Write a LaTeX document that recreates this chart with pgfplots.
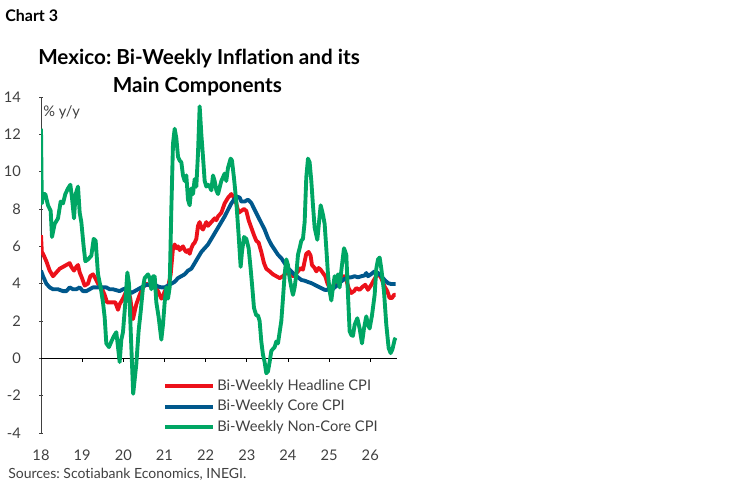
\documentclass[border=0pt]{standalone}
\usepackage{fontspec}
\setmainfont{Lato}[Ligatures={NoCommon}]
\usepackage{pgfplots}
\pgfplotsset{compat=1.18}
\definecolor{sred}{RGB}{236,17,26}
\definecolor{sblue}{RGB}{0,88,140}
\definecolor{sgreen}{RGB}{0,166,100}
\definecolor{txt}{RGB}{64,64,64}
\frenchspacing

\begin{document}
\begin{tikzpicture}
\path[use as bounding box] (0,0) rectangle (561pt,362.25pt);
\node[anchor=base west, inner sep=0, font=\bfseries\fontsize{12}{14}\selectfont] at (3.75pt,346pt) {Chart 3};
\node[anchor=base, inner sep=0, font=\bfseries\fontsize{15.5}{18}\selectfont] at (149.25pt,314pt) {Mexico: Bi-Weekly Inflation and its};
\node[anchor=base, inner sep=0, font=\bfseries\fontsize{15.5}{18}\selectfont] at (148pt,293pt) {Main Components};
\node[anchor=base west, inner sep=0, font=\fontsize{10.5}{12}\selectfont, text=txt] at (6pt,3.75pt) {Sources: Scotiabank Economics, INEGI.};
\node[anchor=base west, inner sep=0, font=\fontsize{11}{13}\selectfont, text=txt] at (32.25pt,275.25pt) {\% y/y};

\begin{axis}[
  at={(30.75pt,37.5pt)}, anchor=south west,
  scale only axis, width=267pt, height=252pt,
  xmin=18, xmax=26.65, ymin=-4, ymax=14,
  axis y line=left, axis x line=bottom,
  x axis line style={draw=none},
  y axis line style={-, draw=black!75, line width=0.6pt},
  xtick={18,...,26}, xticklabels={18,19,20,21,22,23,24,25,26},
  ytick={-4,-2,...,14}, yticklabels={-4,-2,0,2,4,6,8,10,12,14},
  major x tick style={draw=none},
  major y tick style={draw=black!75, line width=0.6pt},
  major tick length=3pt,
  tick label style={font=\fontsize{11}{13}\selectfont, text=txt},
  xticklabel style={yshift=-7.5pt},
  yticklabel style={xshift=-10pt},
  legend style={at={(axis cs:20.97,-2.6)}, anchor=west, draw=none, fill=none,
    inner xsep=0pt, inner ysep=0pt, row sep=1.9pt,
    font=\fontsize{11}{13}\selectfont, text=txt,
    nodes={inner sep=1.5pt, text height=8pt, text depth=2.5pt}},
  legend image code/.code={\draw[#1] (0pt,0pt) -- (36pt,0pt);},
  legend cell align=left,
  every axis plot/.append style={line width=2.9pt, line join=round},
]
\draw[black, line width=0.6pt] (axis cs:18,0) -- (axis cs:26.65,0);
\draw[black, line width=0.6pt]
  (axis cs:19,0) -- (axis cs:19,-0.21)
  (axis cs:20,0) -- (axis cs:20,-0.21)
  (axis cs:21,0) -- (axis cs:21,-0.21)
  (axis cs:22,0) -- (axis cs:22,-0.21)
  (axis cs:23,0) -- (axis cs:23,-0.21)
  (axis cs:24,0) -- (axis cs:24,-0.21)
  (axis cs:25,0) -- (axis cs:25,-0.21)
  (axis cs:26,0) -- (axis cs:26,-0.21);

\addplot[sred] coordinates {
(18.000,6.6)(18.02,5.7)(18.049,5.6)(18.130,5.2)(18.211,4.7)(18.292,4.4)(18.373,4.6)(18.454,4.8)(18.535,4.9)(18.616,5.0)(18.697,5.1)(18.737,4.9)(18.802,4.7)(18.858,4.9)(18.899,5.0)(18.940,4.6)(18.996,4.3)(19.061,3.9)(19.142,4.0)(19.198,4.4)(19.263,4.5)(19.320,4.3)(19.385,4.0)(19.466,3.8)(19.547,3.4)(19.604,3.0)(19.668,3.0)(19.749,3.0)(19.806,3.0)(19.871,2.6)(19.911,2.9)(19.992,3.2)(20.073,3.6)(20.114,3.7)(20.170,3.2)(20.235,2.1)(20.316,2.9)(20.397,3.4)(20.478,3.8)(20.559,4.0)(20.640,3.9)(20.762,3.9)(20.843,3.6)(20.924,3.2)(20.964,3.3)(21.005,3.6)(21.086,3.8)(21.151,4.5)(21.207,5.9)(21.248,6.1)(21.288,5.9)(21.329,6.0)(21.369,5.8)(21.410,5.9)(21.450,6.0)(21.491,5.8)(21.531,5.7)(21.572,5.8)(21.612,5.6)(21.653,5.9)(21.693,6.1)(21.734,6.2)(21.774,6.4)(21.815,7.1)(21.855,7.3)(21.896,7.0)(21.936,6.9)(21.977,7.1)(22.017,7.3)(22.058,7.1)(22.098,7.2)(22.139,7.3)(22.179,7.4)(22.220,7.5)(22.260,7.4)(22.301,7.6)(22.382,7.8)(22.462,8.3)(22.543,8.6)(22.624,8.8)(22.664,8.7)(22.745,8.3)(22.802,7.8)(22.867,7.9)(22.932,8.0)(22.988,7.9)(23.045,7.4)(23.110,7.0)(23.175,6.6)(23.231,6.3)(23.288,6.2)(23.353,5.7)(23.418,5.1)(23.474,4.8)(23.555,4.66)(23.636,4.5)(23.717,4.4)(23.798,4.3)(23.879,4.4)(23.960,4.6)(24.041,4.5)(24.122,4.4)(24.179,4.5)(24.244,4.66)(24.308,4.84)(24.365,4.75)(24.406,5.2)(24.446,5.6)(24.503,5.7)(24.551,5.5)(24.584,5.0)(24.649,4.84)(24.689,4.66)(24.746,4.84)(24.795,4.75)(24.851,4.57)(24.908,4.4)(24.957,4.03)(25.013,3.76)(25.070,3.85)(25.135,3.85)(25.175,3.94)(25.216,4.12)(25.297,4.3)(25.362,4.4)(25.418,4.2)(25.475,3.76)(25.540,3.5)(25.605,3.6)(25.661,3.76)(25.742,3.67)(25.823,3.85)(25.880,3.94)(25.945,3.67)(26.026,3.94)(26.090,4.2)(26.147,4.4)(26.228,4.48)(26.285,4.2)(26.349,3.85)(26.414,3.6)(26.471,3.23)(26.528,3.23)(26.576,3.4)(26.617,3.4)
};
\addlegendentry{Bi-Weekly Headline CPI}

\addplot[sblue] coordinates {
(18.000,4.7)(18.049,4.4)(18.130,4.0)(18.211,3.8)(18.292,3.7)(18.413,3.7)(18.535,3.6)(18.616,3.6)(18.697,3.8)(18.778,3.7)(18.858,3.7)(18.940,3.8)(19.020,3.6)(19.101,3.6)(19.182,3.7)(19.263,3.8)(19.345,3.8)(19.426,3.8)(19.506,3.8)(19.587,3.8)(19.668,3.7)(19.749,3.7)(19.830,3.65)(19.911,3.6)(19.992,3.7)(20.073,3.75)(20.154,3.6)(20.195,3.5)(20.276,3.6)(20.357,3.7)(20.438,3.8)(20.519,3.9)(20.600,3.95)(20.681,3.9)(20.762,3.95)(20.843,3.85)(20.924,3.8)(21.005,3.8)(21.086,3.9)(21.167,4.0)(21.248,4.1)(21.329,4.3)(21.410,4.4)(21.491,4.5)(21.572,4.7)(21.653,4.8)(21.734,5.1)(21.815,5.4)(21.896,5.7)(21.977,5.9)(22.058,6.1)(22.139,6.4)(22.220,6.7)(22.301,7.0)(22.382,7.3)(22.462,7.6)(22.543,7.95)(22.624,8.3)(22.705,8.55)(22.786,8.65)(22.83,8.6)(22.867,8.4)(22.948,8.4)(23.029,8.5)(23.110,8.32)(23.191,7.96)(23.272,7.6)(23.353,7.25)(23.434,6.9)(23.515,6.44)(23.596,6.09)(23.677,5.82)(23.758,5.55)(23.839,5.37)(23.920,5.1)(24.001,4.84)(24.082,4.66)(24.163,4.48)(24.244,4.34)(24.325,4.2)(24.406,4.16)(24.487,4.09)(24.568,4.03)(24.649,3.94)(24.730,3.85)(24.811,3.76)(24.892,3.67)(24.957,3.67)(25.013,3.76)(25.070,3.67)(25.135,3.8)(25.216,3.94)(25.297,4.12)(25.378,4.26)(25.459,4.34)(25.540,4.34)(25.621,4.4)(25.702,4.34)(25.783,4.4)(25.864,4.44)(25.904,4.57)(25.945,4.4)(26.026,4.52)(26.107,4.66)(26.188,4.57)(26.269,4.4)(26.349,4.2)(26.430,4.03)(26.511,3.98)(26.617,3.98)
};
\addlegendentry{Bi-Weekly Core CPI}

\addplot[sgreen] coordinates {
(18.000,12.3)(18.02,8.3)(18.049,8.8)(18.105,8.8)(18.170,8.2)(18.235,7.9)(18.267,6.5)(18.332,7.2)(18.413,7.5)(18.478,8.4)(18.535,8.3)(18.591,8.8)(18.656,9.1)(18.713,9.3)(18.753,8.6)(18.802,7.5)(18.842,8.8)(18.899,9.2)(18.940,7.8)(18.980,7.3)(19.036,6.0)(19.077,5.2)(19.142,5.3)(19.223,5.5)(19.280,6.4)(19.328,6.3)(19.385,4.5)(19.450,3.8)(19.506,3.0)(19.547,2.2)(19.587,0.8)(19.652,0.6)(19.709,0.9)(19.774,1.2)(19.830,1.4)(19.871,0.6)(19.911,-0.2)(19.952,1.0)(19.992,1.4)(20.049,3.0)(20.098,4.6)(20.138,4.0)(20.179,1.5)(20.24,-1.9)(20.316,-0.3)(20.373,1.5)(20.422,2.5)(20.478,3.8)(20.519,4.3)(20.559,4.4)(20.600,4.5)(20.640,4.3)(20.681,3.7)(20.721,4.4)(20.762,4.4)(20.802,3.0)(20.859,2.2)(20.924,1.0)(20.964,1.8)(21.005,3.0)(21.045,3.8)(21.086,3.2)(21.126,3.8)(21.167,8.0)(21.207,11.5)(21.248,12.3)(21.288,11.8)(21.329,10.8)(21.369,10.6)(21.410,10.5)(21.450,9.8)(21.491,9.5)(21.531,9.8)(21.572,8.5)(21.612,8.2)(21.653,9.1)(21.693,8.8)(21.734,9.6)(21.774,9.2)(21.815,11.0)(21.855,13.5)(21.896,12.0)(21.936,10.8)(21.977,9.5)(22.017,9.2)(22.058,9.3)(22.098,9.2)(22.139,9.0)(22.179,9.8)(22.220,9.5)(22.260,9.0)(22.301,8.8)(22.381,9.5)(22.462,9.9)(22.502,9.5)(22.543,10.2)(22.608,10.7)(22.640,10.6)(22.689,9.66)(22.745,8.4)(22.802,6.6)(22.851,4.9)(22.883,5.7)(22.932,6.5)(22.988,6.4)(23.045,5.9)(23.094,4.8)(23.134,3.8)(23.175,2.7)(23.231,2.3)(23.272,2.3)(23.312,2.0)(23.353,0.9)(23.393,0.2)(23.434,-0.2)(23.474,-0.8)(23.515,-0.7)(23.555,-0.2)(23.596,0.4)(23.636,0.5)(23.677,0.6)(23.717,0.9)(23.758,0.8)(23.798,1.4)(23.839,2.0)(23.879,3.2)(23.920,4.5)(23.960,5.3)(24.001,5.0)(24.041,4.3)(24.082,3.8)(24.122,3.4)(24.163,3.8)(24.203,4.5)(24.244,5.55)(24.284,5.9)(24.325,6.3)(24.365,6.4)(24.406,7.3)(24.446,9.7)(24.487,10.7)(24.527,10.5)(24.568,9.5)(24.608,8.2)(24.649,7.0)(24.714,6.35)(24.795,8.2)(24.851,7.7)(24.892,7.2)(24.932,5.9)(24.973,4.5)(25.013,3.6)(25.054,3.1)(25.094,3.8)(25.135,4.4)(25.175,4.1)(25.216,4.5)(25.256,3.8)(25.297,4.7)(25.362,5.9)(25.418,5.55)(25.459,3.4)(25.499,1.45)(25.540,1.25)(25.580,1.2)(25.621,1.8)(25.686,2.15)(25.742,1.6)(25.799,0.8)(25.848,1.6)(25.904,2.25)(25.945,1.8)(25.985,1.6)(26.042,2.3)(26.107,3.4)(26.147,4.8)(26.188,5.3)(26.228,5.4)(26.269,4.8)(26.333,3.6)(26.390,1.8)(26.447,0.55)(26.495,0.28)(26.536,0.46)(26.593,1.0)(26.617,1.1)
};
\addlegendentry{Bi-Weekly Non-Core CPI}
\end{axis}
\end{tikzpicture}
\end{document}
